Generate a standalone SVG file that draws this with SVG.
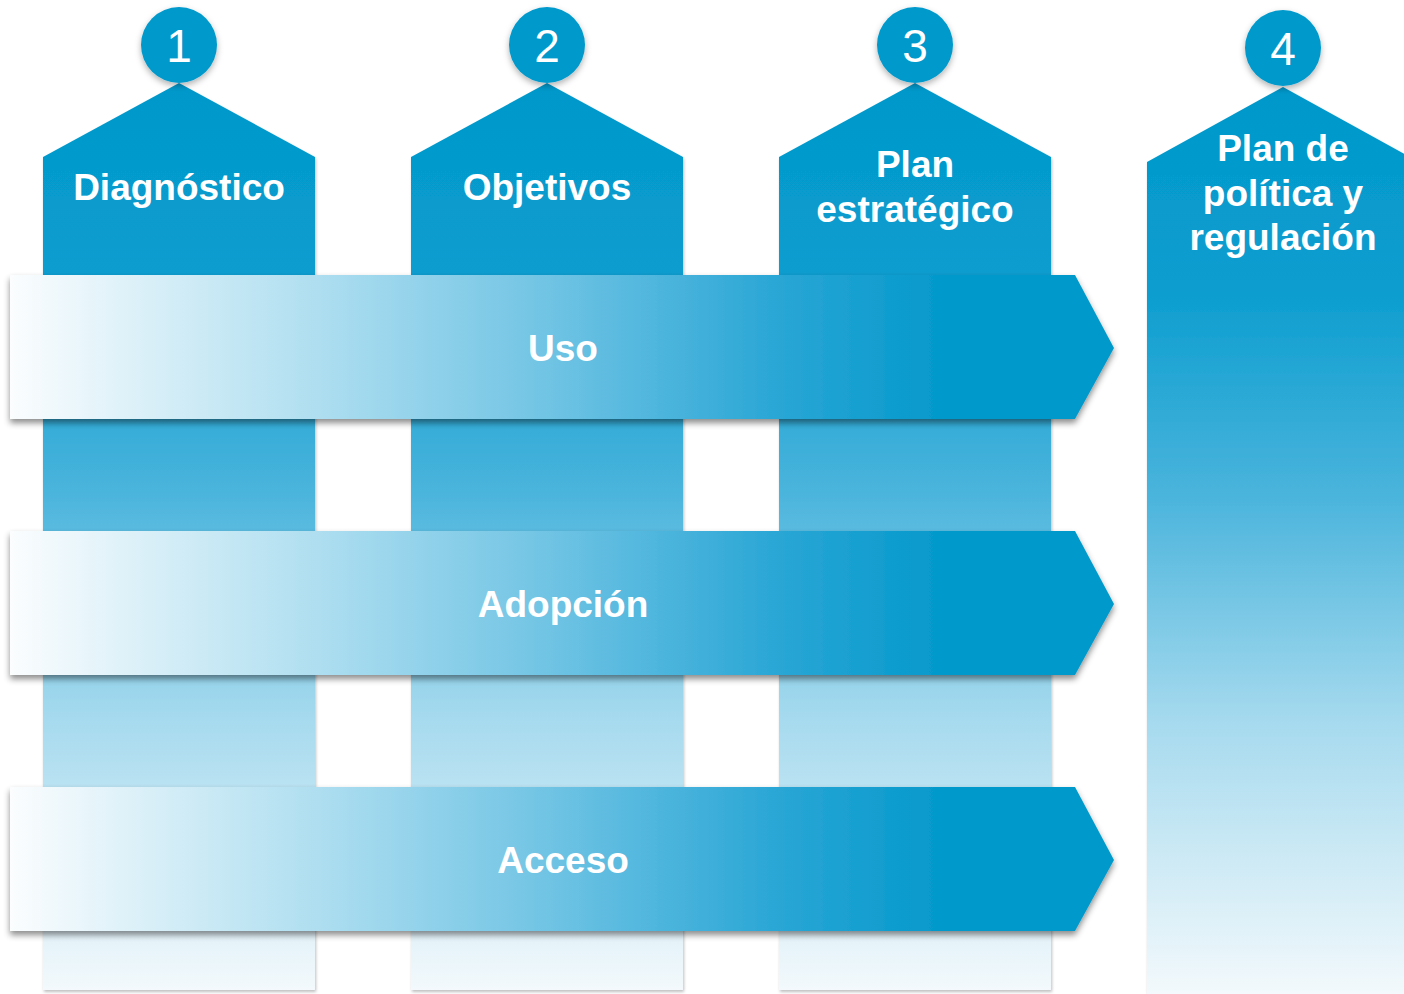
<svg xmlns="http://www.w3.org/2000/svg" width="1404" height="994" viewBox="0 0 1404 994">
<defs>
<linearGradient id="colGrad" x1="0" y1="0" x2="0" y2="1">
<stop offset="0" stop-color="#0398CB"/>
<stop offset="0.22" stop-color="#0A9DCF"/>
<stop offset="0.45" stop-color="#4AB4DC"/>
<stop offset="0.7" stop-color="#A6DAEE"/>
<stop offset="1" stop-color="#F3F9FC"/>
</linearGradient>
<linearGradient id="arrGrad" x1="10" y1="0" x2="1114" y2="0" gradientUnits="userSpaceOnUse">
<stop offset="0" stop-color="#FBFDFE"/>
<stop offset="0.28" stop-color="#AEDEF0"/>
<stop offset="0.5" stop-color="#6CC2E3"/>
<stop offset="0.68" stop-color="#2EA8D6"/>
<stop offset="0.84" stop-color="#0599CC"/>
<stop offset="1" stop-color="#0399CC"/>
</linearGradient>
<filter id="sh" x="-5%" y="-10%" width="110%" height="130%">
<feDropShadow dx="0" dy="4" stdDeviation="3" flood-color="#000" flood-opacity="0.45"/>
</filter>
<filter id="csh" x="-20%" y="-20%" width="140%" height="150%">
<feDropShadow dx="0" dy="3" stdDeviation="3" flood-color="#000" flood-opacity="0.3"/>
</filter>
<filter id="colsh" x="-5%" y="-5%" width="110%" height="110%">
<feDropShadow dx="1" dy="2" stdDeviation="1.5" flood-color="#000" flood-opacity="0.25"/>
</filter>
</defs>
<style>
.col{fill:url(#colGrad);filter:url(#colsh);}
.arr{fill:url(#arrGrad);filter:url(#sh);}
.circ{fill:#0599CC;filter:url(#csh);}
.num{font-family:"Liberation Sans",Arial,sans-serif;font-size:46px;fill:#fff;text-anchor:middle;}
.lbl{font-family:"Liberation Sans",Arial,sans-serif;font-weight:bold;font-size:37px;fill:#fff;text-anchor:middle;}
</style>
<rect width="1404" height="994" fill="#fff"/>
<g id="col1">
<path class="col" d="M43,157 L179,83 L315,157 L315,990 L43,990 Z"/>
<circle class="circ" cx="179" cy="45" r="38"/>
<text class="num" x="179" y="62">1</text>
<text class="lbl" x="179" y="200">Diagnóstico</text>
</g>
<g id="col2">
<path class="col" d="M411,157 L547,83 L683,157 L683,990 L411,990 Z"/>
<circle class="circ" cx="547" cy="45" r="38"/>
<text class="num" x="547" y="62">2</text>
<text class="lbl" x="547" y="200">Objetivos</text>
</g>
<g id="col3">
<path class="col" d="M779,157 L915,83 L1051,157 L1051,990 L779,990 Z"/>
<circle class="circ" cx="915" cy="45" r="38"/>
<text class="num" x="915" y="62">3</text>
<text class="lbl" x="915" y="177">Plan</text>
<text class="lbl" x="915" y="222">estratégico</text>
</g>
<g id="col4">
<path class="col" d="M1147,162 L1283,87 L1419,162 L1419,994 L1147,994 Z"/>
<circle class="circ" cx="1283" cy="48" r="38"/>
<text class="num" x="1283" y="65">4</text>
<text class="lbl" x="1283" y="161">Plan de</text>
<text class="lbl" x="1283" y="206">política y</text>
<text class="lbl" x="1283" y="250">regulación</text>
</g>
<g id="connectors">
<g id="arrow-uso">
<path class="arr" d="M10,275 L1075,275 L1114,348 L1075,419 L10,419 Z"/>
<text class="lbl" x="563" y="361">Uso</text>
</g>
<g id="arrow-adopcion">
<path class="arr" d="M10,531 L1075,531 L1114,604 L1075,675 L10,675 Z"/>
<text class="lbl" x="563" y="617">Adopción</text>
</g>
<g id="arrow-acceso">
<path class="arr" d="M10,787 L1075,787 L1114,860 L1075,931 L10,931 Z"/>
<text class="lbl" x="563" y="873">Acceso</text>
</g>
</g>
</svg>
